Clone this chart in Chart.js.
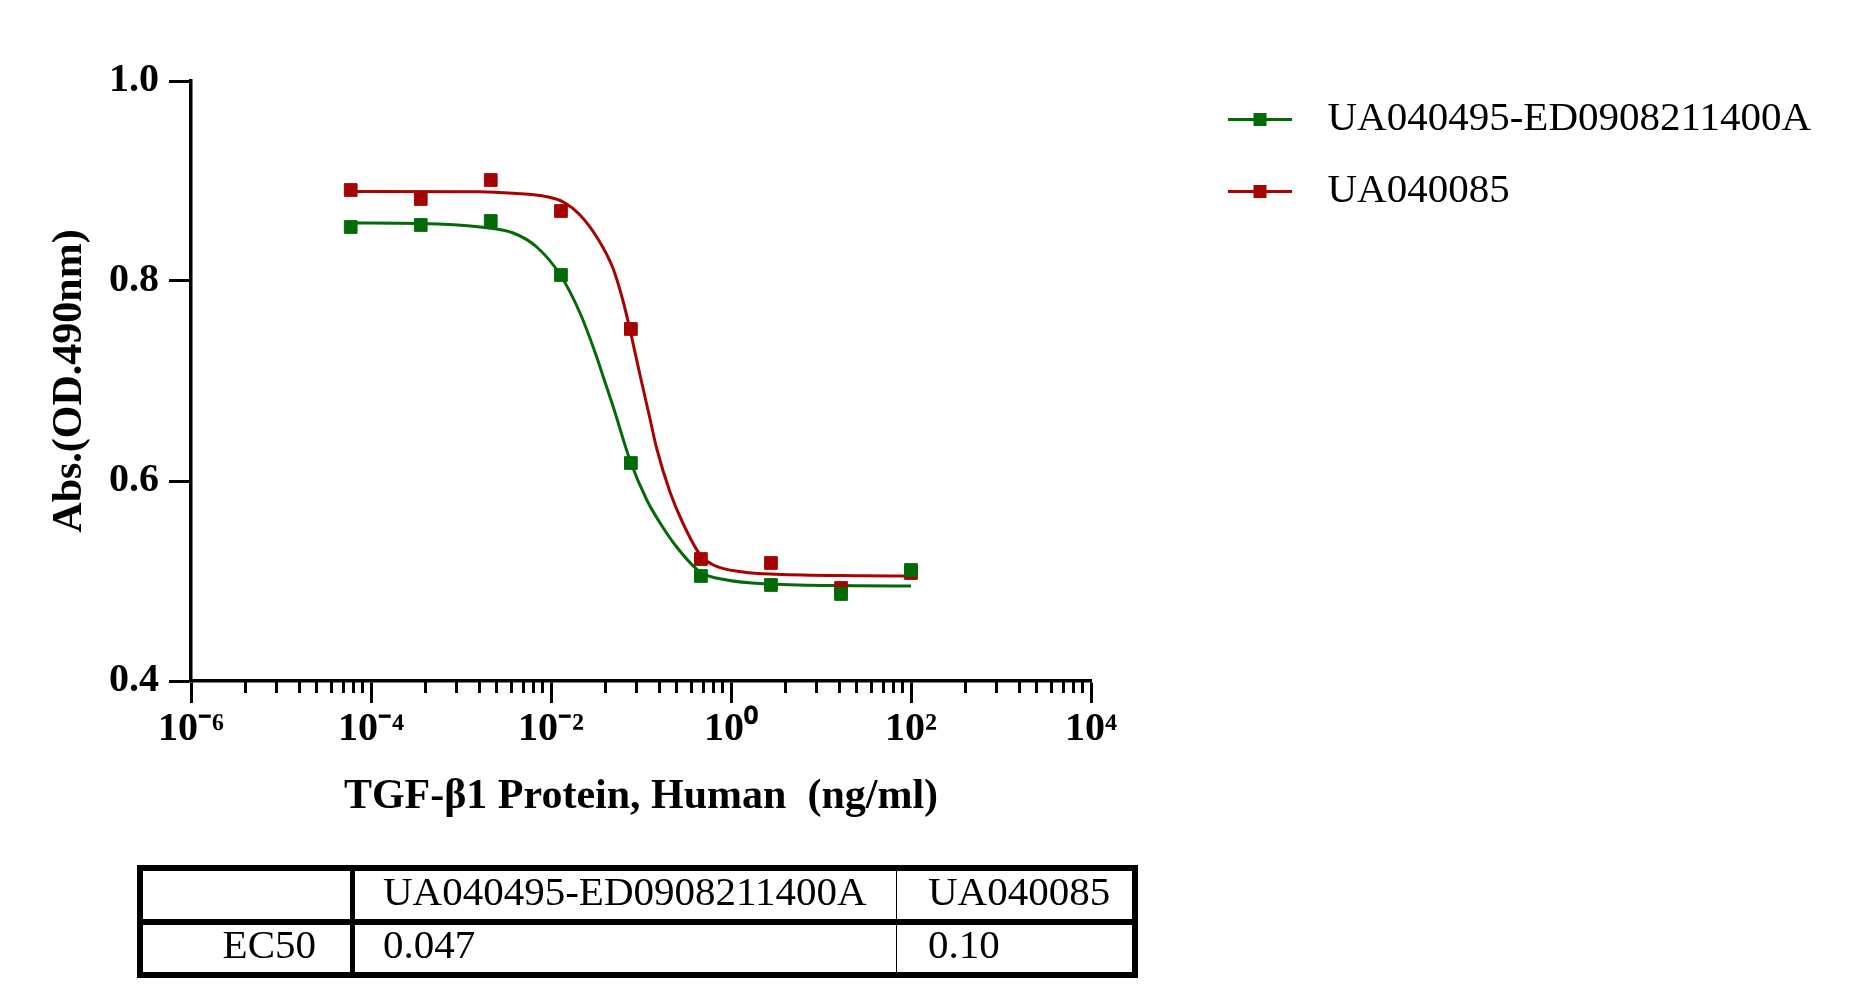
<!DOCTYPE html>
<html>
<head>
<meta charset="utf-8">
<title>TGF-β1 Protein, Human dose response</title>
<script src="https://cdn.jsdelivr.net/npm/chart.js@4.4.1/dist/chart.umd.min.js"></script>
<style>
  html, body { margin: 0; padding: 0; background: #fff; }
  #wrap { position: relative; width: 1853px; height: 1006px; }
  #chart { position: absolute; left: 0; top: 0; }
  #ec50 {
    position: absolute; left: 137px; top: 865px;
    border-collapse: separate; border-spacing: 0;
    border: 6px solid #000;
    font-family: 'Liberation Serif', 'Times New Roman', serif;
    font-size: 41px; color: #000;
  }
  #ec50 td { white-space: nowrap; vertical-align: middle; padding: 0; }
  #ec50 tr.head td { height: 40px; line-height: 40px; padding-bottom: 8px; border-bottom: 6px solid #000; }
  #ec50 tr.row td { height: 38px; line-height: 38px; padding-bottom: 9px; }
  #ec50 td.c1 { width: 173px; padding-right: 34px; border-right: 5px solid #000; text-align: right; }
  #ec50 td.c2 { width: 513px; padding-left: 28px; border-right: 1px solid #000; }
  #ec50 td.c3 { width: 204px; padding-left: 31px; }
</style>
</head>
<body>
<div id="wrap">
  <canvas id="chart" width="1853" height="1006"></canvas>
  <table id="ec50"></table>
</div>
<script>
// measured points (1:6 dilution from 100 ng/ml)
const concentrations = [0.0000595, 0.000357, 0.00214, 0.0129, 0.0772, 0.463, 2.78, 16.7, 100];
const absGreen = [0.854, 0.856, 0.860, 0.806, 0.618, 0.505, 0.496, 0.487, 0.511];
const absRed = [0.891, 0.882, 0.901, 0.870, 0.752, 0.522, 0.518, 0.493, 0.508];

// fitted curves
const fitXGreen = [0.0000595, 0.000357, 0.00163, 0.00381, 0.00694, 0.0127, 0.021, 0.0322, 0.0381, 0.0492, 0.076, 0.116, 0.163, 0.249, 0.456, 0.896, 2.73, 27.1, 100];
const fitYGreen = [0.858, 0.8575, 0.854, 0.848, 0.834, 0.806, 0.768, 0.724, 0.704, 0.674, 0.620, 0.581, 0.558, 0.534, 0.509, 0.501, 0.497, 0.4953, 0.495];
const fitXRed = [0.0000595, 0.00163, 0.00381, 0.00896, 0.0137, 0.021, 0.0322, 0.0492, 0.0636, 0.076, 0.0975, 0.126, 0.149, 0.21, 0.295, 0.456, 0.636, 1.37, 3.22, 27.1, 100];
const fitYRed = [0.8895, 0.8893, 0.8877, 0.8843, 0.879, 0.866, 0.844, 0.812, 0.779, 0.750, 0.706, 0.662, 0.633, 0.589, 0.557, 0.526, 0.516, 0.509, 0.5067, 0.5053, 0.505];

const seriesNames = ['UA040495-ED0908211400A', 'UA040085'];
const ec50Label = 'EC50';
const ec50Values = ['0.047', '0.10'];

const yTickValues = [0.4, 0.6, 0.8, 1.0];
const xMajorTicks = [1e-6, 1e-4, 1e-2, 1, 1e2, 1e4];
const xTickLabels = ['10⁻⁶', '10⁻⁴', '10⁻²', '10⁰', '10²', '10⁴'];
const xMinorFactors = [4, 9, 16, 25, 36, 49, 64, 81];

const GREEN = '#036a08';
const RED = '#a60303';

Chart.defaults.font.family = "'Liberation Serif', 'Times New Roman', serif";
Chart.defaults.color = '#000';

const pts = (xs, ys) => xs.map((x, i) => ({ x: x, y: ys[i] }));

const xMinorTicks = [];
xMajorTicks.slice(0, -1).forEach(m => xMinorFactors.forEach(f => xMinorTicks.push(m * f)));

// legend marker: short line with a square on it
function legendMarker(color) {
  const c = document.createElement('canvas');
  c.width = 64; c.height = 13;
  const g = c.getContext('2d');
  g.fillStyle = color;
  g.fillRect(0, 5, 64, 3);
  g.fillRect(26, 0, 13, 13);
  return c;
}
const markers = [legendMarker(GREEN), legendMarker(RED)];

// keep the legend box wide so the plot ends where it should, then move the items
const legendPlace = {
  id: 'legendPlace',
  afterInit(chart) {
    const lg = chart.legend;
    const fit = lg.fit.bind(lg);
    lg.fit = function () { fit(); this.width = 762; };
  },
  afterLayout(chart) {
    const lg = chart.legend;
    lg.left = 1181; lg.right = lg.left + lg.width;
    lg.top = 68; lg.bottom = lg.top + lg.height;
  }
};

const axisFont = { size: 40, weight: 'bold' };

new Chart(document.getElementById('chart'), {
  type: 'scatter',
  data: {
    datasets: [
      { label: seriesNames[0], data: pts(concentrations, absGreen), pointStyle: 'rect', pointRadius: 9,
        pointBackgroundColor: GREEN, pointBorderColor: GREEN, pointBorderWidth: 1, backgroundColor: GREEN, borderColor: GREEN, showLine: false },
      { label: seriesNames[1], data: pts(concentrations, absRed), pointStyle: 'rect', pointRadius: 9,
        pointBackgroundColor: RED, pointBorderColor: RED, pointBorderWidth: 1, backgroundColor: RED, borderColor: RED, showLine: false },
      { label: seriesNames[0] + ' fit', data: pts(fitXGreen, fitYGreen), showLine: true, borderColor: GREEN,
        borderWidth: 3, pointRadius: 0, cubicInterpolationMode: 'monotone', fill: false },
      { label: seriesNames[1] + ' fit', data: pts(fitXRed, fitYRed), showLine: true, borderColor: RED,
        borderWidth: 3, pointRadius: 0, cubicInterpolationMode: 'monotone', fill: false }
    ]
  },
  options: {
    responsive: false,
    animation: false,
    events: [],
    layout: { padding: { left: 0, top: 81, right: 0, bottom: 165 } },
    plugins: {
      tooltip: { enabled: false },
      legend: {
        position: 'right',
        align: 'start',
        labels: {
          usePointStyle: true,
          pointStyleWidth: 95,
          padding: 31,
          color: '#000',
          font: { size: 41 },
          filter: item => item.datasetIndex < 2,
          generateLabels(chart) {
            const items = Chart.defaults.plugins.legend.labels.generateLabels(chart);
            items.forEach(it => { if (it.datasetIndex < 2) it.pointStyle = markers[it.datasetIndex]; });
            return items;
          }
        }
      }
    },
    scales: {
      x: {
        type: 'logarithmic',
        position: 'bottom',
        min: 1e-6,
        max: 1e4,
        afterBuildTicks: ax => { ax.ticks = xMajorTicks.map(v => ({ value: v })); },
        afterFit: ax => { ax.height = 160; },
        ticks: { autoSkip: false, maxRotation: 0, minRotation: 0, padding: 3, color: '#000', font: axisFont,
          callback: (v, i) => xTickLabels[i] },
        grid: { drawOnChartArea: false, tickLength: 22, tickWidth: 3, tickColor: '#000' },
        border: { display: true, width: 3.5, color: '#000' },
        title: { display: true, text: 'TGF-β1 Protein, Human  (ng/ml)', color: '#000',
          font: { size: 42, weight: 'bold' }, padding: { top: 0, bottom: 19 } }
      },
      xMinor: {
        type: 'logarithmic',
        axis: 'x',
        position: { y: 0.4 },
        min: 1e-6,
        max: 1e4,
        afterBuildTicks: ax => { ax.ticks = xMinorTicks.map(v => ({ value: v })); },
        ticks: { display: false, autoSkip: false },
        grid: { drawOnChartArea: false, tickLength: 12, tickWidth: 3, tickColor: '#000' },
        border: { display: false }
      },
      y: {
        min: 0.4,
        max: 1.0,
        afterBuildTicks: ax => { ax.ticks = yTickValues.map(v => ({ value: v })); },
        afterFit: ax => { ax.width = 191; },
        ticks: { padding: 10, color: '#000', font: axisFont, callback: v => v.toFixed(1) },
        grid: { drawOnChartArea: false, tickLength: 22, tickWidth: 3, tickColor: '#000' },
        border: { display: true, width: 3.5, color: '#000' },
        title: { display: true, text: 'Abs.(OD.490nm)', color: '#000',
          font: { size: 42, weight: 'bold' }, padding: { top: 45, bottom: 0 } }
      }
    }
  },
  plugins: [legendPlace]
});

// EC50 table
const table = document.getElementById('ec50');
const head = table.insertRow();
head.className = 'head';
['', seriesNames[0], seriesNames[1]].forEach((t, i) => {
  const td = head.insertCell(); td.className = 'c' + (i + 1); td.textContent = t;
});
const row = table.insertRow();
row.className = 'row';
[ec50Label, ec50Values[0], ec50Values[1]].forEach((t, i) => {
  const td = row.insertCell(); td.className = 'c' + (i + 1); td.textContent = t;
});
</script>
</body>
</html>
